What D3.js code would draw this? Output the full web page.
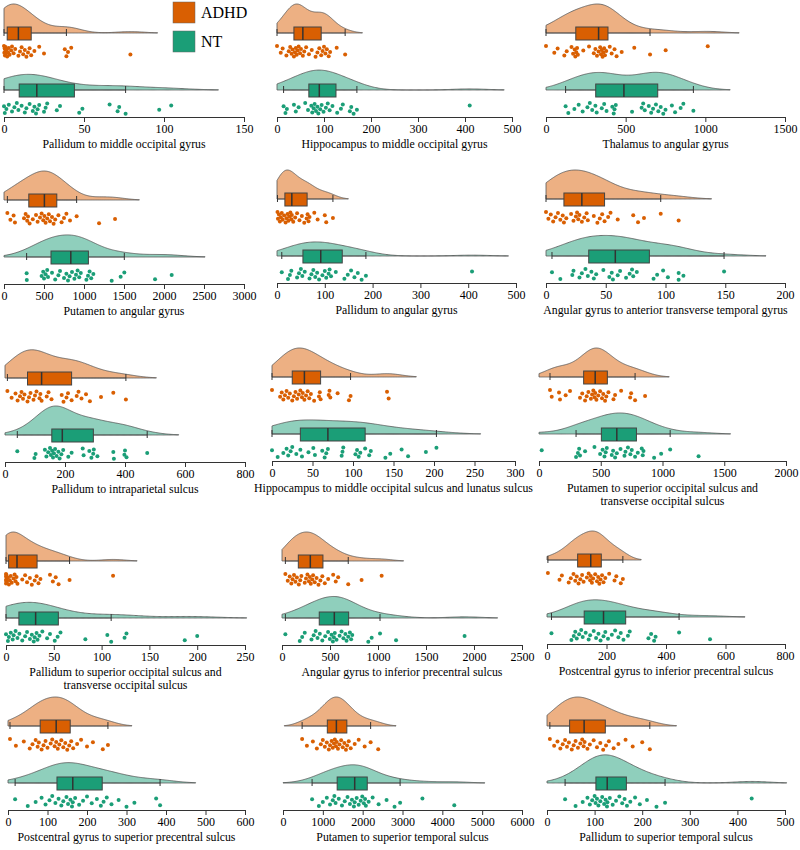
<!DOCTYPE html>
<html><head><meta charset="utf-8">
<script src="https://cdn.jsdelivr.net/npm/d3@7"></script>
<style>body{margin:0;background:#fff} svg text{font-family:"Liberation Serif","Times New Roman",serif}</style>
</head><body><svg id="c" width="800" height="850"></svg>
<script>
const titles = [
  "Pallidum to middle occipital gyrus",
  "Hippocampus to middle occipital gyrus",
  "Thalamus to angular gyrus",
  "Putamen to angular gyrus",
  "Pallidum to angular gyrus",
  "Angular gyrus to anterior transverse temporal gyrus",
  "Pallidum to intraparietal sulcus",
  "Hippocampus to middle occipital sulcus and lunatus sulcus",
  "Putamen to superior occipital sulcus and\ntransverse occipital sulcus",
  "Pallidum to superior occipital sulcus and\ntransverse occipital sulcus",
  "Angular gyrus to inferior precentral sulcus",
  "Postcentral gyrus to inferior precentral sulcus",
  "Postcentral gyrus to superior precentral sulcus",
  "Putamen to superior temporal sulcus",
  "Pallidum to superior temporal sulcus"
];
const axisMax = [150, 500, 1500, 3000, 500, 200, 800, 300, 2000, 250, 2500, 800, 600, 6000, 500];
const tickStep = [50, 100, 500, 500, 100, 50, 200, 50, 500, 50, 500, 200, 100, 1000, 100];
const groups = ["ADHD", "NT"];

const adhd = [
  [0,0.2,0.4,0.6,0.8,1.0,1.2,1.5,2,2.5,3,3.5,4.5,5,6,7,9,10,11,12,13,14,15,16,17,19,22,25,38,39,40,42,79],
  [0,8,12,20,25,28,31,33,36,38,40,42,44,46,49,51,55,58,62,68,74,82,86,90,94,97,100,103,106,110,113,127,145],
  [0,52,73,115,130,160,170,180,184,190,195,200,234,270,300,310,320,330,340,345,350,355,360,365,370,378,400,412,430,443,475,554,653,751,1015],
  [42,80,120,137,250,270,290,300,320,360,400,420,450,470,490,505,520,540,560,575,600,620,640,680,720,750,780,825,908,1188,1388],
  [1,2,4,6,8,10,12,15,18,20,22,24,26,28,30,31,34,38,42,47,52,57,62,64,66,68,78,85,100,103,117],
  [0,2,4,6,8,10,12,14,15,17,21,23,25,26,27,28,30,32,34,35,40,43,45,47,49,52,54,60,73,77,82,96,111],
  [8,22,35,42,50,55,60,65,75,80,85,95,100,105,115,118,122,139,145,155,189,195,205,210,222,239,245,255,270,283,320,361,403],
  [0,10,12,14,16,18,20,22,25,27,29,31,33,35,37,38,40,42,44,46,48,52,58,59,60,70,71,72,81,95,97,142,144],
  [89,103,162,170,216,251,332,350,373,386,400,420,430,440,450,455,465,480,495,510,520,535,545,562,603,616,665,738,746,778,859],
  [0,0,0,0,0.3,0.5,1,2,3,4,5,6,8,9,10,11,12,17,20,22,25,27,30,32,34,36,46,49,52,55,66.5,112],
  [35,60,80,97,110,125,140,155,175,190,202,237,250,265,280,290,300,315,324,341,360,380,400,420,446,481,533,560,585,690,829,1038],
  [3,42,50,73,80,89,95,100,106,112,118,123,134,140,145,147,151,155,162,168,172,176,180,185,190,196,209,227,233,248,255],
  [5,20,40,55,62,70,75,78,85,90,95,100,108,112,118,122,126,130,135,140,145,150,155,160,165,175,185,200,215,240,253],
  [480,600,750,850,950,1000,1050,1100,1150,1180,1220,1250,1280,1300,1330,1350,1380,1420,1460,1500,1540,1580,1610,1650,1700,1800,1900,2050,2200,2390],
  [6,15,22,28,33,38,42,46,52,56,60,65,70,74,77,79,85,90,98,105,112,118,124,130,140,150,165,180,200,216]
];
const nt = [
  [0,0.5,1.5,3,5,6.5,8,9,11,13,14,16,18,19,20,21,22,25,26,27,33,35,47,49,66,71,72,76,97,104.5],
  [14,18,21,36,40,46,60,66,73,75,78,80,83,86,88,92,95,99,104,108,112,118,128,136,140,155,158,163,170,410],
  [123,140,178,205,230,260,275,290,310,318,350,365,380,416,425,430,438,540,600,610,620,645,660,672,690,705,720,736,750,790,810,845,862,925],
  [283,285,470,490,500,520,540,550,600,640,680,700,750,780,800,820,850,880,900,920,940,960,1030,1050,1070,1090,1117,1346,1458,1504,1888,2096],
  [10,23,27,30,42,46,50,53,58,68,72,76,80,84,88,95,100,103,108,110,113,123,141,148,155,162,169,177,186,408],
  [5,12,22,23,28,30,33,35,38,40,42,48,53,55,56,60,62,67,70,72,73,76,90,93,98,102,111,111,115,149],
  [41,98,102,133,138,144,150,153,157,160,163,167,172,178,182,188,194,211,222,259,262,281,288,294,296,308,361,363,398,400,405,474],
  [0,7,14,18,20,23,25,30,35,37,45,51,53,62,65,67,69,86,87,88,103,105,107,109,115,120,122,140,146,160,168,190,203],
  [22,300,315,325,332,373,449,495,515,530,540,549,589,600,616,630,660,692,700,720,740,751,778,800,832,840,846,932,989,1062,1292],
  [0,2,3,5,7,8,10,12,14,17,20,22,25,27,29,30,32,33,35,38,43,46,51,54,57,83,106,110,124,126,187,200],
  [35,185,210,237,307,330,350,370,394,420,450,480,498,516,530,540,550,568,600,620,640,660,672,690,707,720,732,899,934,1021,1188,1902],
  [15,82,90,95,100,108,115,120,130,140,145,157,165,173,180,190,196,205,218,229,240,248,257,272,278,341,350,360,365,444,548],
  [18,50,70,85,95,105,112,120,128,135,140,148,152,158,162,164,170,180,190,200,212,225,235,242,250,262,280,300,320,375,385],
  [730,900,1000,1100,1180,1250,1290,1320,1400,1480,1550,1620,1680,1730,1780,1800,1850,1900,1950,1990,2030,2060,2080,2150,2250,2400,2600,2800,2940,3500,4300],
  [38,60,75,85,90,95,100,102,105,108,112,116,120,123,126,127,132,138,145,152,158,163,168,175,185,195,210,230,248,430]
];

// panel frames: pixel of 0, pixel of axis max, ADHD baseline y
const frames = [
  {x0:4,x1:244,y:33},{x0:277,x1:512,y:33},{x0:546,x1:785,y:33},
  {x0:4,x1:244,y:200},{x0:277,x1:516,y:199},{x0:546,x1:785,y:199},
  {x0:5,x1:245,y:378},{x0:272,x1:515,y:377},{x0:539,x1:786,y:377},
  {x0:6,x1:245,y:561},{x0:282,x1:522,y:561},{x0:547,x1:785,y:560},
  {x0:8,x1:245,y:726},{x0:283,x1:522,y:726},{x0:547,x1:785,y:726}
];

const boxColor = {ADHD:"#D95F02", NT:"#1B9E77"};
const fillColor = {ADHD:"#EDB083", NT:"#8FCFBC"};
const GAP = 57, AXIS_OFF = 84, MAXH = 29;

const svg = d3.select("#c");

function kde(vals, lo) {
  const n = vals.length, sd = d3.deviation(vals);
  const bw = sd * Math.pow(n, -0.2);
  const start = Math.max(lo, d3.min(vals) - 2*bw), end = d3.max(vals) + 2*bw;
  const N = 200, pts = [];
  for (let i = 0; i <= N; i++) {
    const x = start + (end - start) * i / N;
    let s = 0;
    for (const v of vals) { const u = (x - v) / bw; s += Math.exp(-0.5*u*u); }
    pts.push([x, s / (n * bw * Math.sqrt(2*Math.PI))]);
  }
  return pts;
}

titles.forEach((title, p) => {
  const f = frames[p];
  const x = d3.scaleLinear().domain([0, axisMax[p]]).range([f.x0, f.x1]);
  const g = svg.append("g");
  const data = {ADHD: adhd[p], NT: nt[p]};
  const dens = {ADHD: kde(adhd[p], 0), NT: kde(nt[p], 0)};
  const dmax = d3.max([...dens.ADHD, ...dens.NT], d => d[1]);
  const h = d3.scaleLinear().domain([0, dmax]).range([0, MAXH]);

  groups.forEach((grp, gi) => {
    const base = f.y + gi * GAP;
    const vals = data[grp].slice().sort(d3.ascending);
    const area = d3.area().x(d => x(d[0])).y0(base).y1(d => base - h(d[1])).curve(d3.curveBasis);
    g.append("path").attr("d", area(dens[grp]) + "Z")
      .attr("fill", fillColor[grp]).attr("stroke", "#555").attr("stroke-width", 0.8);
    const q1 = d3.quantile(vals, 0.25), med = d3.quantile(vals, 0.5), q3 = d3.quantile(vals, 0.75);
    const iqr = q3 - q1;
    const wlo = d3.min(vals.filter(v => v >= q1 - 1.5*iqr));
    const whi = d3.max(vals.filter(v => v <= q3 + 1.5*iqr));
    g.append("line").attr("x1", x(wlo)).attr("x2", x(whi)).attr("y1", base).attr("y2", base)
      .attr("stroke", "#444").attr("stroke-width", 0.8);
    [wlo, whi].forEach(w => g.append("line").attr("x1", x(w)).attr("x2", x(w))
      .attr("y1", base - 4).attr("y2", base + 3).attr("stroke", "#333").attr("stroke-width", 1));
    g.append("rect").attr("x", x(q1)).attr("y", base - 6).attr("width", x(q3) - x(q1)).attr("height", 13)
      .attr("fill", boxColor[grp]).attr("stroke", "#444").attr("stroke-width", 1);
    g.append("line").attr("x1", x(med)).attr("x2", x(med)).attr("y1", base - 6).attr("y2", base + 7)
      .attr("stroke", "#333").attr("stroke-width", 1.5);
    g.selectAll(null).data(data[grp]).enter().append("circle")
      .attr("cx", d => x(d))
      .attr("cy", (d, i) => base + 13 + ((i * 0.618034 + gi * 0.3) % 1) * 11)
      .attr("r", 2).attr("fill", boxColor[grp]);
  });

  const axisY = f.y + AXIS_OFF;
  const tv = d3.range(0, axisMax[p] + 1e-9, tickStep[p]);
  const ax = g.append("g").attr("transform", `translate(0,${axisY})`)
    .call(d3.axisBottom(x).tickValues(tv).tickFormat(d3.format("d")).tickSizeOuter(0).tickSize(5).tickPadding(2));
  ax.attr("font-family", null);
  ax.select(".domain").attr("stroke", "#333");
  ax.selectAll(".tick line").attr("stroke", "#333");
  ax.selectAll(".tick text").attr("font-size", 12).attr("fill", "#000");
  const cx = (f.x0 + f.x1) / 2;
  title.split("\n").forEach((ln, li) => {
    g.append("text").attr("x", cx).attr("y", axisY + 31 + li * 12.5).attr("text-anchor", "middle")
      .attr("font-size", 11.8).attr("fill", "#000").text(ln);
  });
});

const leg = svg.append("g");
groups.forEach((grp, i) => {
  leg.append("rect").attr("x", 173).attr("y", 2 + i * 29).attr("width", 22).attr("height", 21)
    .attr("fill", boxColor[grp]).attr("stroke", "#666").attr("stroke-width", 0.5);
  leg.append("text").attr("x", 201).attr("y", 18 + i * 29).attr("font-size", 16).attr("fill", "#000").text(grp);
});
</script></body></html>
